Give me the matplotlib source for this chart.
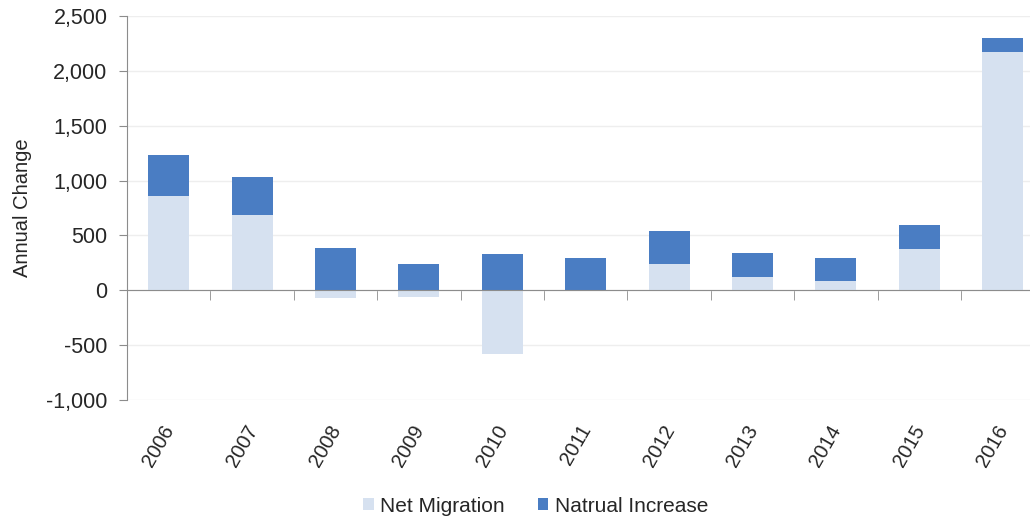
import matplotlib
matplotlib.use("Agg")
import matplotlib.pyplot as plt
from matplotlib.ticker import FuncFormatter, MultipleLocator, FixedLocator
from matplotlib.transforms import ScaledTranslation
import numpy as np

years = ["2006", "2007", "2008", "2009", "2010", "2011",
         "2012", "2013", "2014", "2015", "2016"]
net_migration = [858, 690, -73, -58, -577, 0, 242, 123, 82, 379, 2168]
natural_increase = [378, 338, 382, 244, 330, 297, 302, 219, 211, 216, 134]

plt.rcParams['font.family'] = ['Liberation Sans', 'DejaVu Sans']

light = '#D6E1F0'
dark = '#4A7DC3'
axis_grey = '#8C8C8C'
text_col = '#262626'

fig = plt.figure(figsize=(10.30, 5.19), dpi=100)
ax = fig.add_axes([127 / 1030, 1 - 400 / 519, 1 - 127 / 1030, (400 - 16) / 519])

x = np.arange(len(years))
net = np.array(net_migration)
# positive parts stack on top of the positive net migration, like Excel does
base = np.clip(net, 0, None)

ax.bar(x, net, width=0.49, color=light, label='Net Migration', zorder=2)
ax.bar(x, natural_increase, bottom=base, width=0.49, color=dark,
       label='Natrual Increase', zorder=2)

ax.set_ylim(-1000, 2500)
ax.set_xlim(-0.5, -0.5 + (1030 - 127) / 83.4)
ax.yaxis.set_major_locator(MultipleLocator(500))
ax.yaxis.set_major_formatter(FuncFormatter(lambda v, p: f"{v:,.0f}"))
ax.yaxis.grid(True, color='#EEEEEE', linewidth=1, zorder=0)
ax.set_axisbelow(True)

for side in ['top', 'right']:
    ax.spines[side].set_visible(False)
ax.spines['left'].set_color(axis_grey)
ax.spines['bottom'].set_color(axis_grey)
ax.spines['bottom'].set_position(('data', 0))
ax.spines['bottom'].set_zorder(3)

# category boundary ticks on the zero line
ax.xaxis.set_minor_locator(FixedLocator(x[:-1] + 0.5))
ax.tick_params(axis='x', which='minor', length=7, color=axis_grey, direction='out')
ax.set_xticks(x)
ax.set_xticklabels(years)
ax.tick_params(axis='x', which='major', length=0, pad=98, labelsize=14.5,
               labelcolor=text_col)
ax.tick_params(axis='y', length=6, color=axis_grey, labelsize=15.5, pad=8,
               labelcolor=text_col)

for lab in ax.get_xticklabels():
    lab.set_rotation(60)
    lab.set_rotation_mode('anchor')
    lab.set_ha('right')
    lab.set_va('center')
    lab.set_transform(lab.get_transform() + ScaledTranslation(0.01, 0, fig.dpi_scale_trans))

ax.set_ylabel('Annual Change', fontsize=14.5, labelpad=10, color=text_col)

fig.legend(loc='lower center', bbox_to_anchor=(0.52, -0.03), ncol=2, frameon=False,
           fontsize=15, handlelength=0.5, handleheight=0.5, handletextpad=0.3,
           columnspacing=1.6, labelcolor=text_col)

fig.savefig('out.png', dpi=100, facecolor='white')
